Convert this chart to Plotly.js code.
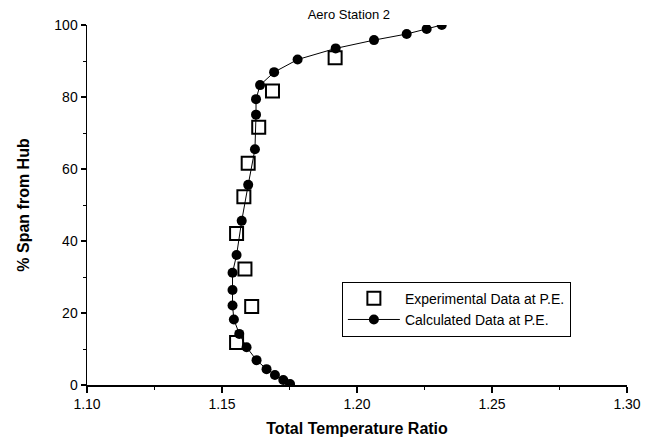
<!DOCTYPE html>
<html>
<head>
<meta charset="utf-8">
<script src="https://cdn.plot.ly/plotly-3.0.1.min.js"></script>
<style>html,body{margin:0;padding:0;background:#fff;}#chart{width:654px;height:439px;}</style>
</head>
<body>
<div id="chart"></div>
<script>
// Experimental data at P.E. (open squares)
const expRatio = [1.1919, 1.1687, 1.1636, 1.1597, 1.1581, 1.1554, 1.1585, 1.1610, 1.1554];
const expSpan  = [90.9, 81.7, 71.6, 61.6, 52.3, 42.1, 32.2, 21.8, 11.8];

// Calculated data at P.E. (filled circles with line)
const calcRatio = [1.2314, 1.2258, 1.2184, 1.2063, 1.1921, 1.1780, 1.1693, 1.1641, 1.1626, 1.1626,
                   1.1622, 1.1597, 1.1573, 1.1554, 1.1539, 1.1539, 1.1539, 1.1544, 1.1564, 1.1591,
                   1.1628, 1.1665, 1.1696, 1.1727, 1.1752];
const calcSpan  = [100, 98.9, 97.5, 95.8, 93.5, 90.4, 86.9, 83.3, 79.4, 75.1,
                   65.5, 55.6, 45.6, 36.1, 31.2, 26.4, 22.1, 18.2, 14.2, 10.5,
                   6.9, 4.4, 2.8, 1.4, 0.3];

const xTicks = [1.10, 1.15, 1.20, 1.25, 1.30];
const xTickLabels = ["1.10", "1.15", "1.20", "1.25", "1.30"];
const yTicks = [0, 20, 40, 60, 80, 100];

const traces = [
  {
    x: expRatio, y: expSpan, type: 'scatter', mode: 'markers',
    name: 'Experimental Data at P.E.',
    marker: {symbol: 'square-open', size: 13, color: '#000', line: {width: 2, color: '#000'}}
  },
  {
    x: calcRatio, y: calcSpan, type: 'scatter', mode: 'lines+markers',
    name: 'Calculated Data at P.E.',
    line: {color: '#000', width: 1},
    marker: {symbol: 'circle', size: 10, color: '#000'}
  }
];

const font = {family: 'Liberation Sans, Arial, sans-serif', color: '#000'};

const layout = {
  width: 654, height: 439,
  margin: {l: 87, r: 27, t: 25, b: 54},
  paper_bgcolor: '#fff', plot_bgcolor: '#fff',
  font: Object.assign({size: 14}, font),
  showlegend: true,
  title: {text: 'Aero Station 2', font: Object.assign({size: 13}, font),
          x: 0.485, xref: 'paper', xanchor: 'center', y: 0.966, yref: 'container', yanchor: 'middle'},
  xaxis: {
    range: [1.10, 1.30], tickvals: xTicks, ticktext: xTickLabels,
    showgrid: false, zeroline: false, showline: true, linecolor: '#000', linewidth: 1.5,
    ticks: 'outside', ticklen: 6, tickwidth: 1.2, tickcolor: '#000',
    minor: {dtick: 0.025, ticks: 'outside', ticklen: 3, tickcolor: '#000', tickwidth: 1, showgrid: false},
    tickfont: Object.assign({size: 14}, font),
    title: {text: '<b>Total Temperature Ratio</b>', font: Object.assign({size: 16}, font), standoff: 11}
  },
  yaxis: {
    range: [0, 100], tickvals: yTicks,
    showgrid: false, zeroline: false, showline: true, linecolor: '#000', linewidth: 1.5,
    ticks: 'outside', ticklen: 5, tickwidth: 1.2, tickcolor: '#000',
    minor: {dtick: 10, ticks: 'outside', ticklen: 3, tickcolor: '#000', tickwidth: 1, showgrid: false},
    tickfont: Object.assign({size: 14}, font),
    title: {text: '<b>% Span from Hub</b>', font: Object.assign({size: 16}, font), standoff: 20}
  },
  legend: {
    x: 0.472, y: 0.287, xanchor: 'left', yanchor: 'top',
    bgcolor: '#fff', bordercolor: '#000', borderwidth: 1,
    font: Object.assign({size: 14}, font),
    itemwidth: 52, tracegroupgap: 0
  }
};

Plotly.newPlot('chart', traces, layout, {displayModeBar: false, staticPlot: true});
</script>
</body>
</html>
